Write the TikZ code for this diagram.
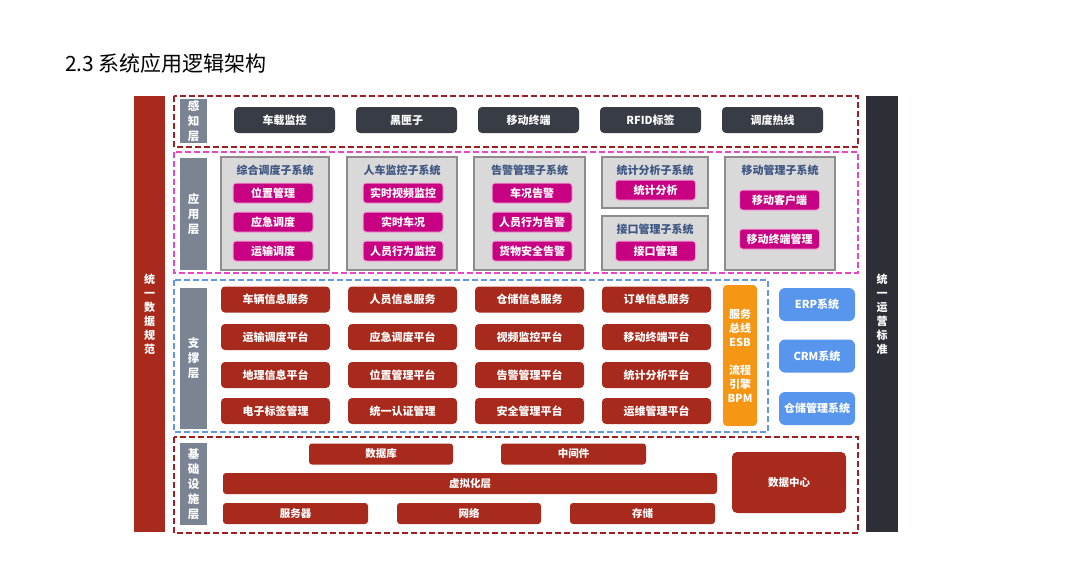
\documentclass[tikz,border=0pt]{standalone}
\usepackage{fontspec}
\setmainfont{Noto Sans CJK SC}
\usepackage{tikz}
\usetikzlibrary{positioning}
\definecolor{barred}{RGB}{168,42,28}
\definecolor{bardark}{RGB}{44,48,54}
\definecolor{sensedark}{RGB}{56,60,68}
\definecolor{lblgray}{RGB}{122,132,146}
\definecolor{subgray}{RGB}{217,217,217}
\definecolor{subedge}{RGB}{140,140,140}
\definecolor{subtitle}{RGB}{62,86,130}
\definecolor{appmag}{RGB}{200,0,130}
\definecolor{extblue}{RGB}{88,150,238}
\definecolor{esborange}{RGB}{245,150,20}
\definecolor{frred}{RGB}{160,30,35}
\definecolor{frpink}{RGB}{230,70,200}
\definecolor{frblue}{RGB}{100,150,230}

\begin{document}
\begin{tikzpicture}[x=1pt, y=-1pt,
  every node/.style={inner sep=0pt, outer sep=0pt},
  boxfont/.style={font=\fontsize{11}{13}\selectfont\bfseries},
  layerframe/.style={dash pattern=on 6pt off 3pt, line width=1.8pt},
  lbl/.style={fill=lblgray, text=white, minimum width=27pt, align=center,
    font=\fontsize{11.5}{15}\selectfont\bfseries},
  sidebar/.style={text=white, align=center, minimum height=436pt,
    font=\fontsize{11}{14}\selectfont\bfseries},
  sense/.style={boxfont, fill=sensedark, text=white, rounded corners=4pt,
    minimum width=101pt, minimum height=26pt},
  subsys/.style={fill=subgray, draw=subedge, line width=1.2pt},
  subname/.style={text=subtitle, font=\fontsize{11}{13}\selectfont\bfseries},
  btn/.style={boxfont, fill=appmag, draw=appmag!35!white, line width=1pt,
    text=white, rounded corners=3pt, minimum width=80pt, minimum height=20pt},
  svc/.style={boxfont, fill=barred, text=white, rounded corners=4pt,
    minimum width=109pt, minimum height=26pt},
  infra/.style={font=\fontsize{10.5}{12}\selectfont\bfseries, fill=barred,
    text=white, rounded corners=3pt, minimum height=21pt},
  extsys/.style={boxfont, fill=extblue, text=white, rounded corners=6pt,
    minimum width=76pt, minimum height=33pt}]

\useasboundingbox (0,0) rectangle (1080,562);

%% ── title ────────────────────────────────────────────────────────
\node[anchor=west, font=\fontsize{21}{24}\selectfont] (title) at (65,64) {2.3 系统应用逻辑架构};

%% ── side bars ────────────────────────────────────────────────────
\node[sidebar, fill=barred, minimum width=31pt] (dataspec) at (149.5,314) {统\\一\\数\\据\\规\\范};
\node[sidebar, fill=bardark, minimum width=32pt] (opsspec) at (882,314) {统\\一\\运\\营\\标\\准};

%% ── layer frames ─────────────────────────────────────────────────
\draw[layerframe, frred] (174,96) rectangle (858,147);
\draw[layerframe, frpink] (174,152) rectangle (858,273);
\draw[layerframe, frblue] (174,280) rectangle (768,432);
\draw[layerframe, frred] (174,437) rectangle (858,533);

%% ── layer labels ─────────────────────────────────────────────────
\node[lbl, minimum height=44pt] (senselbl) at (193.5,121) {感\\知\\层};
\node[lbl, minimum height=112pt] (applbl) at (193.5,214) {应\\用\\层};
\node[lbl, minimum height=141pt] (supplbl) at (193.5,358.5) {支\\撑\\层};
\node[lbl, minimum height=82pt] (infralbl) at (193.5,484) {基\\础\\设\\施\\层};

%% ── perception layer ─────────────────────────────────────────────
\foreach \lab [count=\i] in {车载监控,黑匣子,移动终端,RFID标签,调度热线}
  \node[sense] (sense\i) at ({284.5+122*(\i-1)},120) {\lab};

%% ── application layer: subsystems ────────────────────────────────
\node[subsys, minimum width=108pt, minimum height=113pt] (zhdd) at (275,213.5) {};
\node[subsys, minimum width=110pt, minimum height=113pt] (rcjk) at (402,213.5) {};
\node[subsys, minimum width=111pt, minimum height=113pt] (gjgl) at (529.5,213.5) {};
\node[subsys, minimum width=106pt, minimum height=51pt] (tjfx) at (655,182.5) {};
\node[subsys, minimum width=106pt, minimum height=54pt] (jkgl) at (655,243) {};
\node[subsys, minimum width=110pt, minimum height=113pt] (ydgl) at (780,213.5) {};

\node[subname] (zhddname) at (275,170) {综合调度子系统};
\node[subname] (rcjkname) at (402,170) {人车监控子系统};
\node[subname] (gjglname) at (529.5,170) {告警管理子系统};
\node[subname] (tjfxname) at (655,170) {统计分析子系统};
\node[subname] (jkglname) at (655,229) {接口管理子系统};
\node[subname] (ydglname) at (780,170) {移动管理子系统};

%% ── application layer: functions ─────────────────────────────────
\foreach \lab [count=\i] in {位置管理,应急调度,运输调度}
  \node[btn] (zhdd\i) at (273,{193+29*(\i-1)}) {\lab};
\foreach \lab [count=\i] in {实时视频监控,实时车况,人员行为监控}
  \node[btn] (rcjk\i) at (403,{193+29*(\i-1)}) {\lab};
\foreach \lab [count=\i] in {车况告警,人员行为告警,货物安全告警}
  \node[btn] (gjgl\i) at (532,{193+29*(\i-1)}) {\lab};
\node[btn] (tjfx1) at (655.5,190) {统计分析};
\node[btn] (jkgl1) at (655.5,251) {接口管理};
\node[btn] (ydgl1) at (779.5,200) {移动客户端};
\node[btn] (ydgl2) at (779.5,239) {移动终端管理};

%% ── support layer ────────────────────────────────────────────────
\foreach \lab [count=\c] in {车辆信息服务,人员信息服务,仓储信息服务,订单信息服务}
  \node[svc] (svcA\c) at ({275.5+127*(\c-1)},299.5) {\lab};
\foreach \lab [count=\c] in {运输调度平台,应急调度平台,视频监控平台,移动终端平台}
  \node[svc] (svcB\c) at ({275.5+127*(\c-1)},337) {\lab};
\foreach \lab [count=\c] in {地理信息平台,位置管理平台,告警管理平台,统计分析平台}
  \node[svc] (svcC\c) at ({275.5+127*(\c-1)},375) {\lab};
\foreach \lab [count=\c] in {电子标签管理,统一认证管理,安全管理平台,运维管理平台}
  \node[svc] (svcD\c) at ({275.5+127*(\c-1)},411) {\lab};

\node[fill=esborange, text=white, rounded corners=4pt, minimum width=34pt,
  minimum height=141pt, align=center, font=\fontsize{11}{14}\selectfont\bfseries]
  (esb) at (740,355.5) {服务\\总线\\ESB\\[14pt]流程\\引擎\\BPM};

%% ── external systems ─────────────────────────────────────────────
\node[extsys] (erp) at (817,304.5) {ERP系统};
\node[extsys] (crm) at (817,356) {CRM系统};
\node[extsys] (wms) at (817,408.5) {仓储管理系统};

%% ── infrastructure layer ─────────────────────────────────────────
\node[infra, minimum width=144pt] (db) at (381,454) {数据库};
\node[infra, minimum width=145pt] (mw) at (573.5,454) {中间件};
\node[infra, minimum width=494pt] (virt) at (470,483.5) {虚拟化层};
\node[infra, minimum width=145pt] (srv) at (295.5,513.5) {服务器};
\node[infra, minimum width=144pt] (net) at (469,513.5) {网络};
\node[infra, minimum width=145pt] (stor) at (642.5,513.5) {存储};
\node[infra, rounded corners=5pt, minimum width=114pt, minimum height=61pt] (dc) at (789,482.5) {数据中心};

\end{tikzpicture}
\end{document}
